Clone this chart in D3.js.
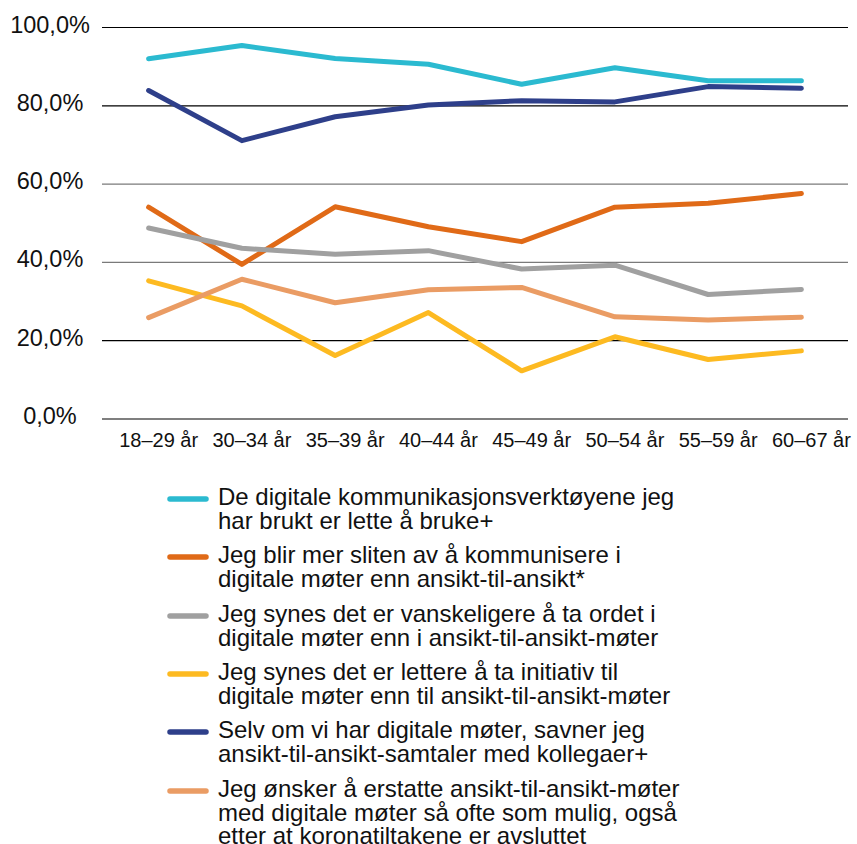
<!DOCTYPE html>
<html>
<head>
<meta charset="utf-8">
<script src="https://cdn.jsdelivr.net/npm/d3@7"></script>
<style>
  body { margin: 0; background: #fff; }
  svg { display: block; font-family: "Liberation Sans", Arial, sans-serif; }
</style>
</head>
<body>
<svg id="chart" width="857" height="844"></svg>
<script>
const categories = ["18–29 år", "30–34 år", "35–39 år", "40–44 år", "45–49 år", "50–54 år", "55–59 år", "60–67 år"]
const yTicks = [0, 20, 40, 60, 80, 100]

const easyToUse = [92.0, 95.4, 92.1, 90.6, 85.5, 89.7, 86.4, 86.4]
const moreTired = [54.1, 39.5, 54.2, 49.1, 45.3, 54.1, 55.1, 57.6]
const harderToSpeak = [48.8, 43.6, 42.1, 43.0, 38.3, 39.3, 31.8, 33.1]
const easierInitiative = [35.3, 28.9, 16.2, 27.2, 12.3, 21.0, 15.2, 17.4]
const missFaceToFace = [83.9, 71.1, 77.2, 80.2, 81.3, 81.0, 84.9, 84.5]
const replaceMeetings = [25.9, 35.7, 29.7, 33.0, 33.6, 26.1, 25.3, 26.0]

const seriesNames = [
    ["De digitale kommunikasjonsverktøyene jeg", "har brukt er lette å bruke+"],
    ["Jeg blir mer sliten av å kommunisere i", "digitale møter enn ansikt-til-ansikt*"],
    ["Jeg synes det er vanskeligere å ta ordet i", "digitale møter enn i ansikt-til-ansikt-møter"],
    ["Jeg synes det er lettere å ta initiativ til", "digitale møter enn til ansikt-til-ansikt-møter"],
    ["Selv om vi har digitale møter, savner jeg", "ansikt-til-ansikt-samtaler med kollegaer+"],
    ["Jeg ønsker å erstatte ansikt-til-ansikt-møter", "med digitale møter så ofte som mulig, også", "etter at koronatiltakene er avsluttet"],
]
const seriesValues = [easyToUse, moreTired, harderToSpeak, easierInitiative, missFaceToFace, replaceMeetings]
const seriesColors = ["#2bbad0", "#e06a17", "#a0a0a0", "#fdba21", "#2e3f8a", "#ea9c64"]

const svg = d3.select("#chart")

const x = d3.scalePoint().domain(categories).range([102, 848]).padding(0.5)
const y = d3.scaleLinear().domain([0, 100]).range([419, 27.5])

// gridlines
svg.append("g")
    .selectAll("line")
    .data(yTicks)
    .join("line")
    .attr("x1", 102)
    .attr("x2", 848)
    .attr("y1", d => y(d))
    .attr("y2", d => y(d))
    .attr("stroke", d => (d === 40 || d === 60) ? "#7a7a7a" : "#000")
    .attr("stroke-width", 1.2)

// y labels
svg.append("g")
    .selectAll("text")
    .data(yTicks)
    .join("text")
    .attr("x", 50)
    .attr("y", d => y(d) + 5)
    .attr("text-anchor", "middle")
    .attr("font-size", 23.5)
    .attr("fill", "#111")
    .text(d => d.toFixed(1).replace(".", ",") + "%")

// x labels
svg.append("g")
    .selectAll("text")
    .data(categories)
    .join("text")
    .attr("x", d => x(d) + 10)
    .attr("y", 447)
    .attr("text-anchor", "middle")
    .attr("font-size", 20)
    .attr("fill", "#111")
    .text(d => d)

// lines
const line = d3.line()
    .x((d, i) => x(categories[i]))
    .y(d => y(d))

svg.append("g")
    .selectAll("path")
    .data(seriesValues)
    .join("path")
    .attr("d", d => line(d))
    .attr("fill", "none")
    .attr("stroke", (d, i) => seriesColors[i])
    .attr("stroke-width", 5)
    .attr("stroke-linecap", "round")
    .attr("stroke-linejoin", "round")

// legend
const legendTop = [505, 563, 622, 680, 738, 797]
const legend = svg.append("g")
    .selectAll("g")
    .data(seriesNames)
    .join("g")
    .attr("transform", (d, i) => `translate(0,${legendTop[i]})`)

legend.append("line")
    .attr("x1", 170)
    .attr("x2", 206)
    .attr("y1", -6)
    .attr("y2", -6)
    .attr("stroke", (d, i) => seriesColors[i])
    .attr("stroke-width", 5.5)
    .attr("stroke-linecap", "round")

legend.append("text")
    .attr("font-size", 24)
    .attr("fill", "#111")
    .selectAll("tspan")
    .data(d => d)
    .join("tspan")
    .attr("x", 218)
    .attr("y", (d, i) => i * 23.5)
    .text(d => d)
</script>
</body>
</html>
